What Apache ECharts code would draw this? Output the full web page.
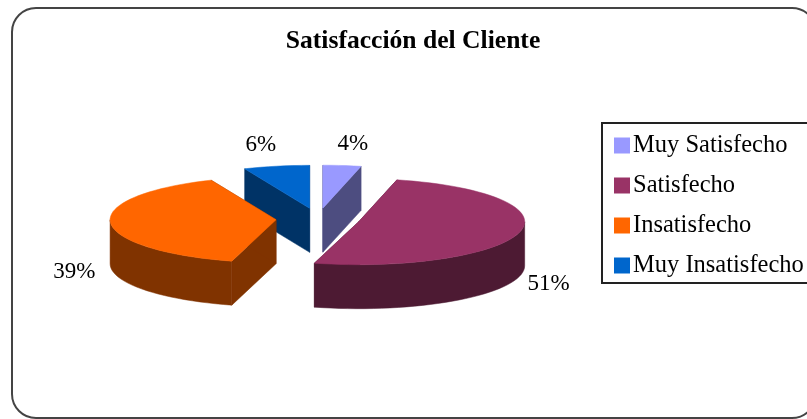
<!DOCTYPE html>
<html><head><meta charset="utf-8">
<style>html,body{margin:0;padding:0;background:#fff;overflow:hidden}#c{width:807px;height:419px}</style>
<script src="https://cdn.jsdelivr.net/npm/echarts@6/dist/echarts.min.js"></script>
</head><body><div id="c"></div>
<script>
var categories = ['Muy Satisfecho', 'Satisfecho', 'Insatisfecho', 'Muy Insatisfecho'];
var values = [3.7, 50.6, 39.3, 6.4];
var topColors = ['#9999FF', '#993366', '#FF6600', '#0066CC'];
var sideColors = ['#4D4D80', '#4D1A33', '#803300', '#003366'];
var drawOrder = [2, 3, 4, 1];

var CX = 318, CY = 219, RX = 166, RY = 43, DEPTH = 44, EXPLODE = 42;
var FONT = '"Liberation Serif","Times New Roman",serif';
var total = values.reduce(function (a, b) { return a + b; }, 0);

function rad(i) { return i * Math.PI / 180; }
function angleBounds(i) {
  var before = 0;
  for (var k = 0; k < i; k++) before += values[k];
  return [before / total * 360, (before + values[i]) / total * 360];
}
function rim(c, a, dy) {
  return [c[0] + RX * Math.sin(rad(a)), c[1] - RY * Math.cos(rad(a)) + (dy || 0)];
}
function arc(c, a0, a1, dy) {
  var pts = [], n = Math.max(2, Math.ceil((a1 - a0) / 3));
  for (var k = 0; k <= n; k++) pts.push(rim(c, a0 + (a1 - a0) * k / n, dy));
  return pts;
}
function poly(points, fill) {
  return { type: 'polygon', shape: { points: points }, style: { fill: fill, stroke: fill, lineWidth: 0.5 } };
}
function sliceRenderer(i) {
  return function () {
    var b = angleBounds(i), mid = (b[0] + b[1]) / 2;
    var c = [CX + EXPLODE * Math.sin(rad(mid)), CY - EXPLODE * RY / RX * Math.cos(rad(mid))];
    var kids = [];
    b.forEach(function (a) {
      var r = rim(c, a);
      kids.push(poly([c, r, [r[0], r[1] + DEPTH], [c[0], c[1] + DEPTH]], sideColors[i]));
    });
    var w0 = Math.max(b[0], 90), w1 = Math.min(b[1], 270);
    if (w1 > w0) {
      kids.push(poly(arc(c, w0, w1).concat(arc(c, w0, w1, DEPTH).reverse()), sideColors[i]));
    }
    kids.push(poly([c].concat(arc(c, b[0], b[1])), topColors[i]));
    var small = values[i] < 10, k = small ? 1.5 : 1.2;
    kids.push({
      type: 'text',
      style: {
        x: c[0] + k * RX * Math.sin(rad(mid)) + (small ? 1 : -3),
        y: c[1] - k * RY * Math.cos(rad(mid)) + (small ? 0 : DEPTH + 5),
        text: Math.round(values[i]) + '%', fill: '#000', font: '23px ' + FONT,
        align: 'center', verticalAlign: 'middle'
      }
    });
    return { type: 'group', children: kids };
  };
}
var chart = echarts.init(document.getElementById('c'), null, { renderer: 'canvas' });
chart.setOption({
  animation: false,
  backgroundColor: '#fff',
  title: {
    text: 'Satisfacción del Cliente', left: 408, top: 23, textAlign: 'center',
    textStyle: { fontFamily: FONT, fontSize: 25.6, fontWeight: 'bold', color: '#000' }
  },
  legend: {
    left: 602, top: 123, orient: 'vertical',
    data: categories, icon: 'rect', itemWidth: 16, itemHeight: 16, itemGap: 15,
    padding: [10, 14, 5, 12], borderColor: '#222', borderWidth: 2, selectedMode: false,
    textStyle: { fontFamily: FONT, fontSize: 24.5, color: '#000', padding: [0, 0, 0, -2] }
  },
  graphic: [{
    type: 'rect', silent: true, z: -1,
    shape: { x: 12, y: 8, width: 804, height: 410, r: 24 },
    style: { fill: '#fff', stroke: '#444', lineWidth: 2 }
  }],
  series: categories.map(function (name, i) {
    return {
      type: 'custom', name: name, coordinateSystem: 'none', z: drawOrder[i],
      itemStyle: { color: topColors[i] },
      data: [values[i]],
      renderItem: sliceRenderer(i)
    };
  })
});
</script></body></html>
